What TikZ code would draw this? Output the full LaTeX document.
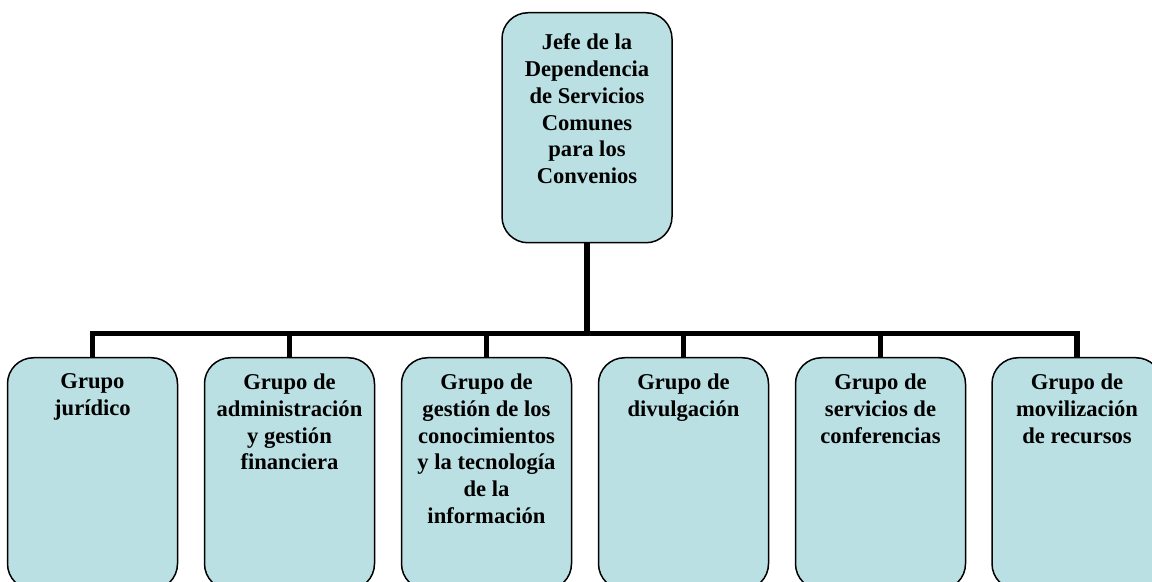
\documentclass[tikz,border=0pt]{standalone}
\usepackage{fontspec}
\setmainfont{Liberation Serif}
\definecolor{boxfill}{RGB}{187,224,227}
\begin{document}
\begin{tikzpicture}[x=0.5pt,y=-0.5pt,
  orgbox/.style={draw=black, line width=0.75pt, fill=boxfill, rounded corners=13pt,
    minimum width=85pt, inner sep=0pt, anchor=north,
    font=\fontsize{11.3}{13.4}\selectfont\bfseries},
  conn/.style={draw=black, line width=2.6pt, line join=miter}]
\clip (0,0) rectangle (1152,582);
\useasboundingbox (0,0) rectangle (1152,582);
\newcommand{\topbox}[2]{\parbox[t][#1][t]{84pt}{\centering\vspace{8pt}#2}}
\coordinate (bar) at (0,333.5);
\node[orgbox] (head) at (587,12) {\topbox{115pt}{\vspace{2.5pt}Jefe de la\\Dependencia\\de Servicios\\Comunes\\para los\\Convenios}};
\node[orgbox] (g1) at (92.5,357) {\topbox{116pt}{Grupo\\jurídico}};
\node[orgbox] (g2) at (289.5,357) {\topbox{116pt}{Grupo de\\administración\\y gestión\\financiera}};
\node[orgbox] (g3) at (486.5,357) {\topbox{116pt}{Grupo de\\gestión de los\\conocimientos\\y la tecnología\\de la\\información}};
\node[orgbox] (g4) at (683.5,357) {\topbox{116pt}{Grupo de\\divulgación}};
\node[orgbox] (g5) at (880.5,357) {\topbox{116pt}{Grupo de\\servicios de\\conferencias}};
\node[orgbox] (g6) at (1077,357) {\topbox{116pt}{Grupo de\\movilización\\de recursos}};
\foreach \g in {g1,g2,g3,g4,g5,g6}{
  \draw[conn] (head.south) -- (head.south |- bar) -| (\g.north);
}
\end{tikzpicture}
\end{document}
